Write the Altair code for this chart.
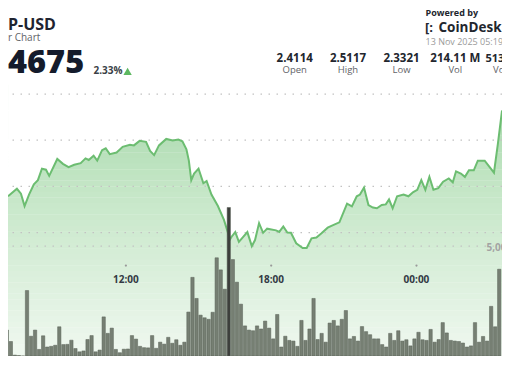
import altair as alt
import pandas as pd

# ---------------- data ----------------
# 10-minute volume bars (millions), first bar starts 07:00
VOLUME_M = [1.18, 0.66, 0.04, 0.02, 0.00,
            2.98, 0.90, 1.18, 0.30, 0.92, 0.41, 0.44, 0.49, 1.33, 0.52,
            0.53, 0.72, 0.34, 0.19, 0.23, 0.75, 0.93, 0.19, 0.27, 1.78,
            1.03, 1.27, 0.30, 0.15, 0.31, 0.32, 0.93, 0.77, 0.44, 0.38,
            0.37, 0.93, 0.35, 0.63, 0.54, 0.85, 0.58, 0.74, 0.49, 0.63,
            2.00, 3.58, 2.62, 1.86, 1.74, 1.67, 1.99, 4.47, 3.92, 3.04,
            6.76, 4.39, 3.36, 2.36, 1.37, 1.18, 1.15, 1.37, 1.23, 1.59,
            1.27, 0.78, 1.89, 0.41, 0.90, 0.71, 0.68, 0.44, 1.62, 0.71,
            1.23, 2.62, 0.75, 1.03, 0.63, 1.50, 1.62, 1.37, 1.67, 2.07,
            0.78, 0.89, 0.68, 1.34, 1.11, 0.97, 0.78, 0.78, 0.52, 0.41,
            1.03, 0.71, 1.15, 0.68, 0.74, 0.46, 0.78, 1.08, 0.74, 0.71,
            1.21, 0.63, 0.75, 1.52, 1.05, 0.71, 0.68, 0.66, 0.59, 0.41,
            0.46, 1.52, 0.63, 0.89, 0.68, 2.26, 1.33, 3.95]
HIGHLIGHT_BAR = "16:10"

# price line: minutes after 07:00 and price (USD)
LINE_MIN = [8, 30, 40, 49, 60, 72, 82, 92, 102, 110, 130, 144, 158, 172, 188,
            200, 208, 220, 229, 241, 250, 260, 277, 292, 310, 320, 334, 350,
            360, 370, 382, 400, 416, 430, 440, 450, 456, 462, 469, 480, 492,
            500, 512, 528, 543, 558, 562, 571, 580, 601, 612, 620, 630, 640,
            650, 672, 680, 690, 700, 709, 722, 738, 748, 760, 772, 784, 800,
            812, 829, 848, 860, 872, 880, 890, 901, 912, 922, 934, 944, 952,
            961, 972, 988, 1000, 1012, 1022, 1032, 1042, 1052, 1062, 1074,
            1086, 1100, 1110, 1118, 1130, 1140, 1150, 1162, 1172, 1189, 1212,
            1222, 1232]
LINE_PRICE = [2.3893, 2.3974, 2.3921, 2.3787, 2.3911, 2.4023, 2.4068, 2.4192,
              2.4181, 2.4114, 2.4297, 2.4244, 2.4208, 2.4234, 2.4251, 2.4303,
              2.4286, 2.4332, 2.4279, 2.4392, 2.4413, 2.4349, 2.4366, 2.4429,
              2.4451, 2.4444, 2.4493, 2.4482, 2.4384, 2.4339, 2.4444, 2.4514,
              2.4497, 2.4507, 2.4489, 2.4402, 2.4279, 2.4068, 2.4139, 2.4192,
              2.4034, 2.4058, 2.3911, 2.3787, 2.3637, 2.3426, 2.3455, 2.3505,
              2.3400, 2.3505, 2.3353, 2.3419, 2.3602, 2.3497, 2.3542, 2.3524,
              2.3507, 2.3566, 2.3500, 2.3497, 2.3384, 2.3332, 2.3332, 2.3437,
              2.3447, 2.3489, 2.3553, 2.3577, 2.3611, 2.3813, 2.3784, 2.3893,
              2.3911, 2.3987, 2.3798, 2.3771, 2.3763, 2.3798, 2.3805, 2.3858,
              2.3763, 2.3893, 2.3911, 2.3893, 2.3939, 2.3963, 2.4068, 2.3963,
              2.4103, 2.3963, 2.3981, 2.4051, 2.4086, 2.4044, 2.4163, 2.4139,
              2.4103, 2.4174, 2.4174, 2.4279, 2.4279, 2.4149, 2.4472, 2.4823]

GRID_PRICES = [2.35, 2.40, 2.45, 2.50]
GRID_VOLUME = [5.0]
VOLUME_LABEL = "5,000,000"
TICK_LABELS = ["12:00", "18:00", "00:00"]
TICK_MINUTES = [300, 660, 1020]

TITLE = "P-USD"
SUBTITLE = "r Chart"
BIG_PRICE = "4675"
CHANGE = "2.33%"
POWERED = "Powered by"
BRAND = "CoinDesk Data"
STAMP = "13 Nov 2025 05:19"
STAT_VALUES = ["2.4114", "2.5117", "2.3321", "214.11 M", "513"]
STAT_LABELS = ["Open", "High", "Low", "Vol", "Vol"]

# ---------------- tables ----------------
def hhmm(m):
    h = (7 + m // 60) % 24
    return f"{h:02d}:{m % 60:02d}"

W, H = 494, 348
XDOM = [7.92, 1231.9]
PDOM = [2.2163, 2.5932]
VDOM = [0, 15.84]
FONT = "Open Sans"

bar_start = [10 * i for i in range(len(VOLUME_M))]
bars = pd.DataFrame({
    "m": [s + 5 for s in bar_start],
    "time": [hhmm(s) for s in bar_start],
    "vol": VOLUME_M,
})
bars["c"] = ["#3d3f3c" if t == HIGHLIGHT_BAR else "#767f73" for t in bars["time"]]
line = pd.DataFrame({"m": LINE_MIN, "price": LINE_PRICE})
line["ptop"] = PDOM[1]
ticks = pd.DataFrame({"m": TICK_MINUTES, "label": TICK_LABELS})

xs = alt.X("m:Q", scale=alt.Scale(domain=XDOM, nice=False, zero=False, padding=0),
           axis=None)
pscale = alt.Scale(domain=PDOM, nice=False, zero=False)
py = lambda f: alt.Y(f, scale=pscale, axis=None)
vy = lambda f: alt.Y(f, scale=alt.Scale(domain=VDOM, nice=False), axis=None)

# ---- vertical gradient fill under the line (styling bands, masked above the line) ----
N_BANDS = 48
TOP_P, BOT_P = 2.51, PDOM[0]
STOPS = [(0.0, (163, 214, 167)), (0.38, (196, 230, 198)), (1.0, (240, 248, 240))]


def grad_color(t):
    for (t0, c0), (t1, c1) in zip(STOPS[:-1], STOPS[1:]):
        if t <= t1:
            f = (t - t0) / (t1 - t0)
            return "#%02x%02x%02x" % tuple(round(a + (b - a) * f) for a, b in zip(c0, c1))
    return "#%02x%02x%02x" % STOPS[-1][1]


band_rows = []
for j in range(N_BANDS):
    hi = TOP_P - (TOP_P - BOT_P) * j / N_BANDS
    lo = TOP_P - (TOP_P - BOT_P) * (j + 1) / N_BANDS
    band_rows.append({"hi": hi + 0.0004, "lo": lo, "c": grad_color((j + 0.5) / N_BANDS)})
bands = pd.DataFrame(band_rows)

fill_bands = alt.Chart(bands).mark_rect(clip=True).encode(
    y=alt.Y("hi:Q", scale=pscale, axis=None), y2="lo:Q",
    x=alt.value(0), x2=alt.value(W),
    color=alt.Color("c:N", scale=None))
mask = alt.Chart(line).mark_area(color="white", clip=True).encode(
    x=xs, y=py("price:Q"), y2="ptop:Q")

grid = alt.Chart(pd.DataFrame({"p": GRID_PRICES})).mark_rule(
    color="#c2c2c2", strokeDash=[1.5, 6.5], strokeWidth=1.2
).encode(y=py("p:Q"))
vgrid = alt.Chart(pd.DataFrame({"v": GRID_VOLUME})).mark_rule(
    color="#c2c2c2", strokeDash=[1.5, 6.5], strokeWidth=1.2
).encode(y=vy("v:Q"))
pline = alt.Chart(line).mark_line(color="#6cbd71", strokeWidth=2, clip=True).encode(
    x=xs, y=py("price:Q"))
vbars = alt.Chart(bars).mark_bar(width=3.3, stroke="#596157", strokeWidth=0.5, clip=True).encode(
    x=xs, y=vy("vol:Q"), color=alt.Color("c:N", scale=None))
tick_dots = alt.Chart(ticks).mark_circle(size=5, color="#9a9a9a", opacity=1).encode(
    x=xs, y=alt.value(257.6))
tick_txt = alt.Chart(ticks).mark_text(
    font=FONT, fontSize=10, fontWeight="bold", color="#333a44", baseline="middle"
).encode(x=xs, text="label:N", y=alt.value(271.5))


def txt(s, x, y, **kw):
    kw.setdefault("font", FONT)
    return alt.Chart(pd.DataFrame({"t": [s]})).mark_text(**kw).encode(
        text="t:N", x=alt.value(x), y=alt.value(y))


vlabel = txt(VOLUME_LABEL, 478.5, 239.6, align="left", baseline="middle",
             fontSize=10, fontWeight="bold", color="#a3a3a3")

header = [
    txt(TITLE, 0, 22.0, align="left", baseline="alphabetic", fontSize=16,
        fontWeight="bold", color="#1f2430"),
    txt(SUBTITLE, 0, 33.4, align="left", baseline="alphabetic", fontSize=10,
        color="#5f6368"),
    txt(BIG_PRICE, 0, 65.1, align="left", baseline="alphabetic", fontSize=32.5,
        fontWeight=800, color="#141b2b"),
    txt(CHANGE, 85.5, 66.1, align="left", baseline="alphabetic", fontSize=10,
        fontWeight="bold", color="#3a3f47"),
    alt.Chart(pd.DataFrame({"t": [CHANGE]})).mark_point(
        shape="triangle-up", filled=True, size=70, color="#5cb860", opacity=1
    ).encode(x=alt.value(119.6), y=alt.value(63.3)),
    txt(POWERED, 417.5, 8.2, align="left", baseline="alphabetic", fontSize=9,
        fontWeight="bold", color="#22262e"),
    txt("[:", 417.0, 24.4, align="left", baseline="alphabetic", fontSize=13,
        fontWeight="bold", color="#22262e"),
    txt(BRAND, 430.5, 24.4, align="left", baseline="alphabetic", fontSize=13.5,
        fontWeight="bold", color="#22262e"),
    txt(STAMP, 417.5, 36.9, align="left", baseline="alphabetic", fontSize=9,
        color="#9a9a9a"),
]
centers = [286.7, 340.0, 393.5, 447.3]
for i, c in enumerate(centers):
    header.append(txt(STAT_VALUES[i], c, 53.5, align="center", baseline="alphabetic",
                      fontSize=11.5, fontWeight="bold", color="#22262e"))
    header.append(txt(STAT_LABELS[i], c, 65.0, align="center", baseline="alphabetic",
                      fontSize=9.5, color="#5f6368"))
header.append(txt(STAT_VALUES[4], 477.5, 53.5, align="left", baseline="alphabetic",
                  fontSize=11, fontWeight="bold", color="#22262e"))
header.append(txt(STAT_LABELS[4], 485.0, 65.0, align="left", baseline="alphabetic",
                  fontSize=9.5, color="#5f6368"))

chart = alt.layer(
    fill_bands, mask, grid, vgrid, pline, vbars, tick_dots, tick_txt, vlabel, *header
).resolve_scale(y="independent").properties(
    width=W, height=H, padding=0, autosize=alt.AutoSizeParams(type="none"),
    background="white",
).configure_view(stroke=None)

chart.save("out.html", embed_options={"renderer": "svg", "actions": False})
